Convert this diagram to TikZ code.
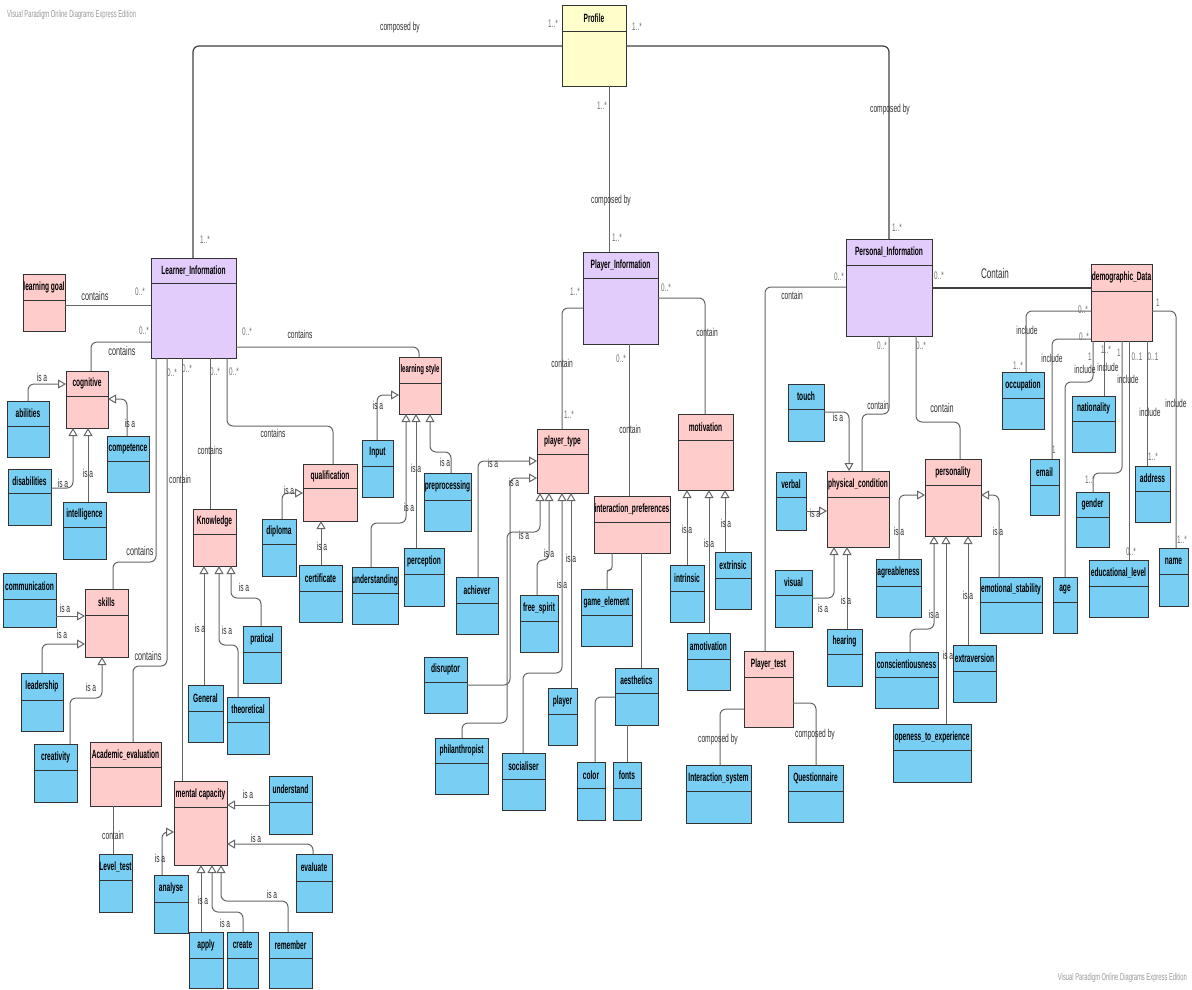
\documentclass[tikz,border=0pt]{standalone}
\usepackage{fontspec}
\usetikzlibrary{arrows.meta}
\newfontfamily\cnd[FakeStretch=0.58]{Liberation Sans}
\newfontfamily\cndb[FakeStretch=0.55]{Liberation Sans}
\definecolor{cyel}{HTML}{FFFFCC}
\definecolor{cpur}{HTML}{E1CCFB}
\definecolor{cpink}{HTML}{FFCCCC}
\definecolor{cblue}{HTML}{78CEF3}
\definecolor{cline}{HTML}{333333}
\definecolor{cwm}{HTML}{999999}
\newcounter{lc}
\newcommand\ubox[8]{%
 \node[umlbox, fill=#7, minimum width={#4-#2}, minimum height={#5-#3}] (#1) at (#2,#3) {};
 \draw[boxsep] (#2,#6) -- (#4,#6);
 \node[boxtitle] (#1-t) at ({(#2+#4)/2},{(#3+#6)/2}) {#8};
}
\newcommand\lb[3]{\stepcounter{lc}\node[lbl] (lb\arabic{lc}) at (#1,#2) {#3};}
\newcommand\lbig[3]{\stepcounter{lc}\node[lbl, font=\cnd\fontsize{12.5}{13}\selectfont] (lb\arabic{lc}) at (#1,#2) {#3};}
\newcommand\ml[3]{\stepcounter{lc}\node[mult] (ml\arabic{lc}) at (#1,#2) {#3};}
\begin{document}
\begin{tikzpicture}[x=1pt,y=-1pt,
  umlbox/.style={draw=cline, line width=1pt, anchor=north west, inner sep=0pt, outer sep=0pt},
  boxsep/.style={draw=cline, line width=1pt},
  boxtitle/.style={font=\cndb\bfseries\fontsize{12}{12}\selectfont, text=black, inner sep=0pt},
  lbl/.style={font=\cnd\fontsize{11.5}{12}\selectfont, text=black!80, inner sep=0pt},
  mult/.style={font=\cnd\fontsize{11}{11}\selectfont, text=black!55, inner sep=0pt},
  assoc/.style={draw=black!60, line width=1pt, rounded corners=6pt},
  assocdark/.style={draw=black!75, line width=1.2pt, rounded corners=6pt},
  isa/.style={assoc, -{Triangle[open, length=8pt, width=9pt, fill=white]}}]
\fill[white] (0,0) rectangle (1192,989);
\useasboundingbox (0,0) rectangle (1192,989);

% ---------- boxes ----------
\ubox{Profile}{562}{5}{626}{86}{31}{cyel}{Profile}
\ubox{LI}{151}{258}{236}{358}{283}{cpur}{Learner\_Information}
\ubox{PlI}{583}{252}{658}{344}{278}{cpur}{Player\_Information}
\ubox{PI}{846}{239}{932}{336}{265}{cpur}{Personal\_Information}
\ubox{lg}{23}{274}{65}{331}{300}{cpink}{learning goal}
\ubox{cog}{66}{371}{108}{428}{396}{cpink}{cognitive}
\ubox{abil}{7}{401}{49}{457}{426}{cblue}{abilities}
\ubox{comp}{107}{436}{149}{492}{461}{cblue}{competence}
\ubox{dis}{8}{469}{51}{525}{493}{cblue}{disabilities}
\ubox{intel}{63}{502}{106}{559}{527}{cblue}{intelligence}
\ubox{comm}{3}{573}{56}{627}{599}{cblue}{communication}
\ubox{skills}{85}{589}{128}{657}{615}{cpink}{skills}
\ubox{lead}{21}{673}{63}{731}{700}{cblue}{leadership}
\ubox{crea}{34}{744}{77}{802}{770}{cblue}{creativity}
\ubox{acad}{90}{742}{161}{806}{767}{cpink}{Academic\_evaluation}
\ubox{lvl}{99}{854}{132}{912}{880}{cblue}{Level\_test}
\ubox{mc}{174}{781}{227}{865}{807}{cpink}{mental capacity}
\ubox{und}{269}{776}{312}{834}{802}{cblue}{understand}
\ubox{eval}{296}{854}{332}{912}{881}{cblue}{evaluate}
\ubox{ana}{154}{875}{188}{933}{902}{cblue}{analyse}
\ubox{apply}{189}{932}{223}{988}{958}{cblue}{apply}
\ubox{create}{227}{932}{258}{988}{958}{cblue}{create}
\ubox{rem}{269}{932}{312}{988}{958}{cblue}{remember}
\ubox{know}{193}{509}{236}{566}{534}{cpink}{Knowledge}
\ubox{gen}{188}{685}{223}{742}{711}{cblue}{General}
\ubox{theo}{227}{697}{269}{754}{722}{cblue}{theoretical}
\ubox{prat}{243}{626}{281}{683}{652}{cblue}{pratical}
\ubox{qual}{303}{464}{357}{521}{488}{cpink}{qualification}
\ubox{dipl}{262}{519}{296}{576}{544}{cblue}{diploma}
\ubox{cert}{299}{565}{342}{622}{591}{cblue}{certificate}
\ubox{undg}{352}{567}{398}{624}{593}{cblue}{understanding}
\ubox{inp}{362}{440}{393}{497}{466}{cblue}{Input}
\ubox{ls}{399}{357}{441}{414}{383}{cpink}{\fontsize{11}{11}\selectfont learning style}
\ubox{prep}{424}{473}{471}{531}{500}{cblue}{preprocessing}
\ubox{perc}{404}{548}{444}{606}{574}{cblue}{perception}
\ubox{pt}{537}{429}{588}{493}{454}{cpink}{player\_type}
\ubox{mot}{678}{414}{733}{490}{440}{cpink}{motivation}
\ubox{ip}{594}{496}{670}{553}{522}{cpink}{interaction\_preferences}
\ubox{ach}{456}{577}{498}{634}{603}{cblue}{achiever}
\ubox{fs}{520}{595}{558}{652}{621}{cblue}{free\_spirit}
\ubox{ge}{581}{589}{632}{646}{615}{cblue}{game\_element}
\ubox{disr}{424}{657}{467}{713}{682}{cblue}{disruptor}
\ubox{pl}{548}{688}{577}{745}{714}{cblue}{player}
\ubox{aes}{615}{668}{658}{725}{693}{cblue}{aesthetics}
\ubox{phil}{435}{738}{488}{794}{763}{cblue}{philanthropist}
\ubox{soc}{502}{753}{545}{810}{779}{cblue}{socialiser}
\ubox{col}{577}{762}{605}{820}{788}{cblue}{color}
\ubox{fon}{613}{762}{641}{820}{788}{cblue}{fonts}
\ubox{isys}{686}{765}{751}{823}{791}{cblue}{Interaction\_system}
\ubox{quest}{788}{765}{843}{822}{791}{cblue}{Questionnaire}
\ubox{intr}{670}{565}{704}{622}{591}{cblue}{intrinsic}
\ubox{extr}{715}{552}{751}{609}{578}{cblue}{extrinsic}
\ubox{amot}{687}{633}{730}{690}{659}{cblue}{amotivation}
\ubox{ptest}{744}{651}{793}{727}{677}{cpink}{Player\_test}
\ubox{demo}{1091}{264}{1152}{341}{291}{cpink}{demographic\_Data}
\ubox{touch}{788}{384}{824}{441}{409}{cblue}{touch}
\ubox{occ}{1002}{372}{1044}{429}{398}{cblue}{occupation}
\ubox{nat}{1072}{396}{1115}{452}{421}{cblue}{nationality}
\ubox{email}{1030}{459}{1059}{515}{485}{cblue}{email}
\ubox{addr}{1135}{466}{1170}{522}{491}{cblue}{address}
\ubox{gend}{1076}{492}{1109}{547}{517}{cblue}{gender}
\ubox{phys}{827}{471}{889}{547}{497}{cpink}{physical\_condition}
\ubox{pers}{925}{459}{981}{536}{485}{cpink}{personality}
\ubox{verb}{776}{472}{806}{530}{497}{cblue}{verbal}
\ubox{vis}{775}{570}{812}{627}{595}{cblue}{visual}
\ubox{hear}{827}{629}{862}{686}{654}{cblue}{hearing}
\ubox{agr}{876}{559}{921}{617}{586}{cblue}{agreableness}
\ubox{emo}{980}{577}{1042}{633}{602}{cblue}{emotional\_stability}
\ubox{age}{1053}{577}{1077}{633}{602}{cblue}{age}
\ubox{edu}{1089}{560}{1148}{617}{586}{cblue}{educational\_level}
\ubox{name}{1159}{548}{1188}{606}{574}{cblue}{name}
\ubox{consc}{875}{652}{938}{708}{677}{cblue}{conscientiousness}
\ubox{extra}{953}{645}{996}{702}{671}{cblue}{extraversion}
\ubox{open}{893}{724}{971}{782}{750}{cblue}{openess\_to\_experience}

% ---------- Profile ----------
\draw[assocdark] (Profile.west|-0,46) -| (LI.north-|193,0);
\draw[assocdark] (Profile.east|-0,46) -| (PI.north-|889,0);
\draw[assoc] (Profile.south-|609,0) -- (PlI.north-|609,0);
\lb{400}{28}{composed by}
\ml{553}{24}{1..*}\ml{637}{27}{1..*}\ml{205}{240}{1..*}
\lb{890}{110}{composed by}\ml{897}{228}{1..*}
\ml{602}{106}{1..*}\lb{611}{201}{composed by}\ml{617}{238}{1..*}

% ---------- Learner_Information ----------
\draw[assoc] (lg.east|-0,305) -- (LI.west|-0,305);
\lbig{95}{296}{contains}\ml{140}{292}{0..*}
\draw[assoc] (LI.west|-0,342) -| (cog.north-|91,0);
\lbig{122}{351}{contains}\ml{144}{331}{0..*}
\draw[assoc] (LI.east|-0,347) -| (ls.north-|419,0);
\lb{300}{334}{contains}\ml{247}{332}{0..*}
\draw[assoc] (LI.south-|156,0) |- (113,562) -- (skills.north-|113,0);
\lbig{140}{551}{contains}
\draw[assoc] (LI.south-|167,0) |- (133,666) -- (acad.north-|133,0);
\lbig{148}{656}{contains}
\draw[assoc] (LI.south-|182,0) -- (mc.north-|182,0);
\lb{180}{479}{contain}
\draw[assoc] (LI.south-|210,0) -- (know.north-|210,0);
\lb{210}{450}{contains}
\draw[assoc] (LI.south-|227,0) |- (333,426) -- (qual.north-|333,0);
\lb{273}{433}{contains}
\ml{172}{373}{0..*}\ml{187}{369}{0..*}\ml{215}{372}{0..*}\ml{234}{372}{0..*}

% cognitive
\draw[isa] (abil.north-|28,0) |- (cog.west|-0,384); \lb{42}{377}{is a}
\draw[isa] (comp.north-|127,0) |- (cog.east|-0,399); \lb{130}{423}{is a}
\draw[isa] (dis.east|-0,488) -| (cog.south-|73,0); \lb{63}{483}{is a}
\draw[isa] (intel.north-|88,0) -- (cog.south-|88,0); \lb{88}{473}{is a}
% skills
\draw[isa] (comm.east|-0,616) -- (skills.west|-0,616); \lb{65}{608}{is a}
\draw[isa] (lead.north-|42,0) |- (skills.west|-0,644); \lb{62}{634}{is a}
\draw[isa] (crea.north-|70,0) |- (102,698) -- (skills.south-|102,0); \lb{91}{687}{is a}
% academic
\draw[assoc] (acad.south-|113,0) -- (lvl.north-|113,0); \lb{113}{835}{contain}
% mental capacity
\draw[isa] (und.west|-0,805) -- (mc.east|-0,805); \lb{248}{794}{is a}
\draw[isa] (eval.north-|313,0) |- (mc.east|-0,844); \lb{256}{838}{is a}
\draw[isa] (ana.north-|162,0) |- (mc.west|-0,832); \lb{160}{858}{is a}
\draw[isa] (apply.north-|201,0) -- (mc.south-|201,0); \lb{203}{900}{is a}
\draw[isa] (create.north-|243,0) |- (212,912) -- (mc.south-|212,0); \lb{225}{923}{is a}
\draw[isa] (rem.north-|288,0) |- (221,901) -- (mc.south-|221,0); \lb{272}{894}{is a}
% knowledge
\draw[isa] (gen.north-|204,0) -- (know.south-|204,0); \lb{200}{628}{is a}
\draw[isa] (theo.north-|238,0) |- (219,645) -- (know.south-|219,0); \lb{227}{630}{is a}
\draw[isa] (prat.north-|261,0) |- (231,598) -- (know.south-|231,0); \lb{244}{587}{is a}
% qualification
\draw[isa] (dipl.north-|282,0) |- (qual.west|-0,493); \lb{289}{490}{is a}
\draw[isa] (cert.north-|321,0) -- (qual.south-|321,0); \lb{322}{546}{is a}
% learning style
\draw[isa] (inp.north-|377,0) |- (ls.west|-0,395); \lb{378}{405}{is a}
\draw[isa] (undg.north-|371,0) |- (406,523) -- (ls.south-|406,0); \lb{409}{507}{is a}
\draw[isa] (perc.north-|416,0) -- (ls.south-|416,0); \lb{416}{468}{is a}
\draw[isa] (prep.north-|451,0) |- (430,452) -- (ls.south-|430,0); \lb{445}{462}{is a}

% ---------- Player_Information ----------
\draw[assoc] (PlI.west|-0,308) -| (pt.north-|562,0);
\lb{562}{363}{contain}\ml{575}{292}{1..*}\ml{569}{415}{1..*}
\draw[assoc] (PlI.south-|629,0) -- (ip.north-|629,0);
\lb{630}{429}{contain}\ml{621}{359}{0..*}
\draw[assoc] (PlI.east|-0,298) -| (mot.north-|705,0);
\lb{707}{332}{contain}\ml{666}{288}{0..*}
% player_type
\draw[isa] (ach.north-|478,0) |- (pt.west|-0,461); \lb{493}{463}{is a}
\draw[isa] (disr.east|-0,685) -| (510,478) -- (pt.west|-0,478); \lb{514}{482}{is a}
\draw[isa] (fs.north-|537,0) |- (549,560) -- (pt.south-|549,0); \lb{549}{553}{is a}
\draw[isa] (phil.north-|462,0) |- (507,723) |- (540,532) -- (pt.south-|540,0); \lb{524}{535}{is a}
\draw[isa] (soc.north-|523,0) |- (562,673) -- (pt.south-|562,0); \lb{562}{584}{is a}
\draw[isa] (pl.north-|571,0) -- (pt.south-|571,0); \lb{571}{558}{is a}
% interaction preferences
\draw[assoc, rounded corners=3pt] (ip.south-|612,0) |- (607,570) -- (ge.north-|607,0);
\draw[assoc] (ip.south-|641,0) -- (aes.north-|641,0);
\draw[assoc] (aes.west|-0,697) -| (col.north-|595,0);
\draw[assoc] (aes.south-|627,0) -- (fon.north-|627,0);
% motivation
\draw[isa] (intr.north-|687,0) -- (mot.south-|687,0); \lb{687}{529}{is a}
\draw[isa] (amot.north-|709,0) -- (mot.south-|709,0); \lb{709}{543}{is a}
\draw[isa] (extr.north-|725,0) -- (mot.south-|725,0); \lb{726}{523}{is a}

% ---------- Player_test ----------
\draw[assoc] (PI.west|-0,287) -| (ptest.north-|765,0);
\lb{792}{295}{contain}\ml{839}{277}{0..*}
\draw[assoc] (ptest.west|-0,709) -| (isys.north-|720,0); \lb{718}{740}{composed by}
\draw[assoc] (ptest.east|-0,703) -| (quest.north-|816,0); \lb{815}{735}{composed by}

% ---------- Personal_Information ----------
\draw[assocdark] (PI.east|-0,288) -- (demo.west|-0,288);
\stepcounter{lc}\node[lbl, font=\cnd\fontsize{14}{14}\selectfont] (lb\arabic{lc}) at (995,273) {Contain};
\ml{939}{276}{0..*}
\draw[assoc] (PI.south-|889,0) |- (862,414) -- (phys.north-|862,0);
\lb{878}{405}{contain}\ml{882}{346}{0..*}
\draw[assoc] (PI.south-|916,0) |- (960,422) -- (pers.north-|960,0);
\lbig{942}{408}{contain}\ml{921}{346}{0..*}
% physical condition
\draw[isa] (touch.east|-0,412) -| (phys.north-|849,0); \lb{838}{417}{is a}
\draw[isa] (verb.east|-0,511) -- (phys.west|-0,511); \lb{815}{513}{is a}
\draw[isa] (vis.east|-0,598) -| (phys.south-|834,0); \lb{823}{608}{is a}
\draw[isa] (hear.north-|847,0) -- (phys.south-|847,0); \lb{846}{600}{is a}
% personality
\draw[isa] (agr.north-|899,0) |- (pers.west|-0,495); \lb{899}{531}{is a}
\draw[isa] (emo.north-|999,0) |- (pers.east|-0,495); \lb{998}{531}{is a}
\draw[isa] (consc.north-|910,0) |- (934,629) -- (pers.south-|934,0); \lb{934}{614}{is a}
\draw[isa] (open.north-|946,0) -- (pers.south-|946,0); \lb{948}{655}{is a}
\draw[isa] (extra.north-|968,0) -- (pers.south-|968,0); \lb{968}{595}{is a}

% ---------- demographic_Data ----------
\draw[assoc] (demo.west|-0,311) -| (occ.north-|1026,0);
\lb{1027}{330}{include}\ml{1083}{310}{0..*}\ml{1018}{366}{1..*}
\draw[assoc] (demo.west|-0,339) -| (email.north-|1052,0);
\lb{1052}{358}{include}\ml{1084}{337}{0..*}\ml{1054}{450}{1}
\draw[assoc] (demo.south-|1093,0) |- (1065,382) -- (age.north-|1065,0);
\lb{1085}{369}{include}\ml{1090}{357}{1}
\draw[assoc] (demo.south-|1104,0) -- (nat.north-|1104,0);
\lb{1108}{367}{include}\ml{1106}{350}{1..*}
\draw[assoc] (demo.south-|1122,0) |- (1093,473) -- (gend.north-|1093,0);
\ml{1119}{353}{1}\ml{1090}{480}{1..*}
\draw[assoc] (demo.south-|1129,0) -- (edu.north-|1129,0);
\lb{1128}{379}{include}\ml{1137}{357}{0..1}\ml{1131}{552}{0..*}
\draw[assoc] (demo.south-|1147,0) -- (addr.north-|1147,0);
\lb{1150}{412}{include}\ml{1153}{357}{0..1}\ml{1153}{457}{1..*}
\draw[assoc] (demo.east|-0,311) -| (name.north-|1176,0);
\lb{1176}{403}{include}\ml{1158}{303}{1}\ml{1182}{540}{1..*}

% ---------- edition notes ----------
\node[font=\cnd\fontsize{10}{10}\selectfont, text=cwm, anchor=west, inner sep=0pt] (vp1) at (7,15) {Visual Paradigm Online Diagrams Express Edition};
\node[font=\cnd\fontsize{10}{10}\selectfont, text=cwm, anchor=east, inner sep=0pt] (vp2) at (1187,978) {Visual Paradigm Online Diagrams Express Edition};
\end{tikzpicture}
\end{document}
